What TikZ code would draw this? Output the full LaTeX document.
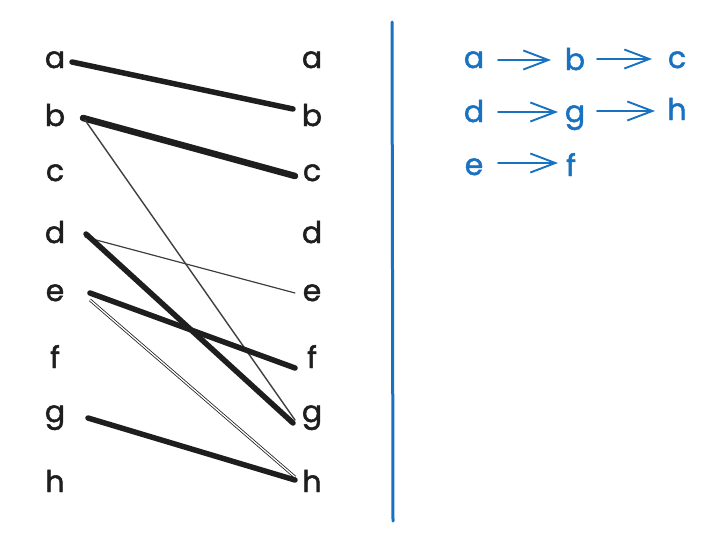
\documentclass[tikz,border=0pt]{standalone}
\usepackage{fontspec}
\setmainfont{Poppins}[FakeBold=1.6]
\usetikzlibrary{arrows.meta}
\definecolor{ink}{HTML}{1E1E1E}
\definecolor{blu}{HTML}{1971C2}
\tikzset{
  letter/.style={anchor=base, inner sep=0pt, text=ink, font=\fontsize{30}{32}\selectfont},
  bletter/.style={letter, text=blu},
  heavy/.style={draw=ink, line width=5.5pt, line cap=round},
  thin/.style={draw=ink!85, line width=1.4pt, line cap=round},
  hollow/.style={draw=ink, double=white, line width=0.8pt, double distance=1.3pt},
  barrow/.style={draw=blu, line width=1.9pt, line cap=round, -{Straight Barb[length=25pt,width=19pt,line width=1.9pt]}},
  sep/.style={draw=blu, line width=3pt, line cap=round}
}
\begin{document}
\begin{tikzpicture}[x=1pt,y=-1pt]
\useasboundingbox (0,0) rectangle (715,549);
% left column
\node[letter] (La) at (55,68) {a};
\node[letter] (Lb) at (55,126) {b};
\node[letter] (Lc) at (55,181) {c};
\node[letter] (Ld) at (55,243) {d};
\node[letter] (Le) at (55,301) {e};
\node[letter] (Lf) at (55,368) {f};
\node[letter] (Lg) at (55,422) {g};
\node[letter] (Lh) at (55,492) {h};
% right column
\node[letter] (Ra) at (312,68) {a};
\node[letter] (Rb) at (312,126) {b};
\node[letter] (Rc) at (312,181) {c};
\node[letter] (Rd) at (312,243) {d};
\node[letter] (Re) at (312,301) {e};
\node[letter] (Rf) at (312,368) {f};
\node[letter] (Rg) at (312,422) {g};
\node[letter] (Rh) at (312,492) {h};
% connectors
\draw[heavy] ([shift={(17,-6)}]La.base) -- ([shift={(-19,-17)}]Rb.base);
\draw[heavy, line width=6.5pt] ([shift={(28,-8)}]Lb.base) -- ([shift={(-17,-5)}]Rc.base);
\draw[thin] ([shift={(30,-6)}]Lb.base) -- ([shift={(-17,-2)}]Rg.base);
\draw[thin, line width=1.2pt] ([shift={(30,-6)}]Ld.base) -- ([shift={(-17,-8)}]Re.base);
\draw[heavy] ([shift={(31,-9)}]Ld.base) -- ([shift={(-19,1)}]Rg.base);
\draw[heavy] ([shift={(35,-8)}]Le.base) -- ([shift={(-17,0)}]Rf.base);
\draw[hollow] ([shift={(35,-1)}]Le.base) -- ([shift={(-17,-15)}]Rh.base);
\draw[heavy] ([shift={(33,-4)}]Lg.base) -- ([shift={(-17,-12)}]Rh.base);
% separator
\coordinate (S1) at (392,22);
\coordinate (S2) at (393,521);
\draw[sep] (S1) -- (S2);
% chains
\node[bletter] (Ba) at (474,68) {a};
\node[bletter] (Bb) at (575,70) {b};
\node[bletter] (Bc) at (677,68) {c};
\node[bletter] (Bd) at (474,122) {d};
\node[bletter] (Bg) at (575,122) {g};
\node[bletter] (Bh) at (677,120) {h};
\node[bletter] (Be) at (474,175) {e};
\node[bletter] (Bf) at (571,176) {f};
\draw[barrow] ([shift={(24,-8)}]Ba.base) -- ([shift={(-24,-10)}]Bb.base);
\draw[barrow] ([shift={(22,-11)}]Bb.base) -- ([shift={(-25,-9)}]Bc.base);
\draw[barrow] ([shift={(24,-10)}]Bd.base) -- ([shift={(-17,-10)}]Bg.base);
\draw[barrow] ([shift={(22,-11)}]Bg.base) -- ([shift={(-22,-9)}]Bh.base);
\draw[barrow] ([shift={(24,-12)}]Be.base) -- ([shift={(-13,-13)}]Bf.base);
\end{tikzpicture}
\end{document}
